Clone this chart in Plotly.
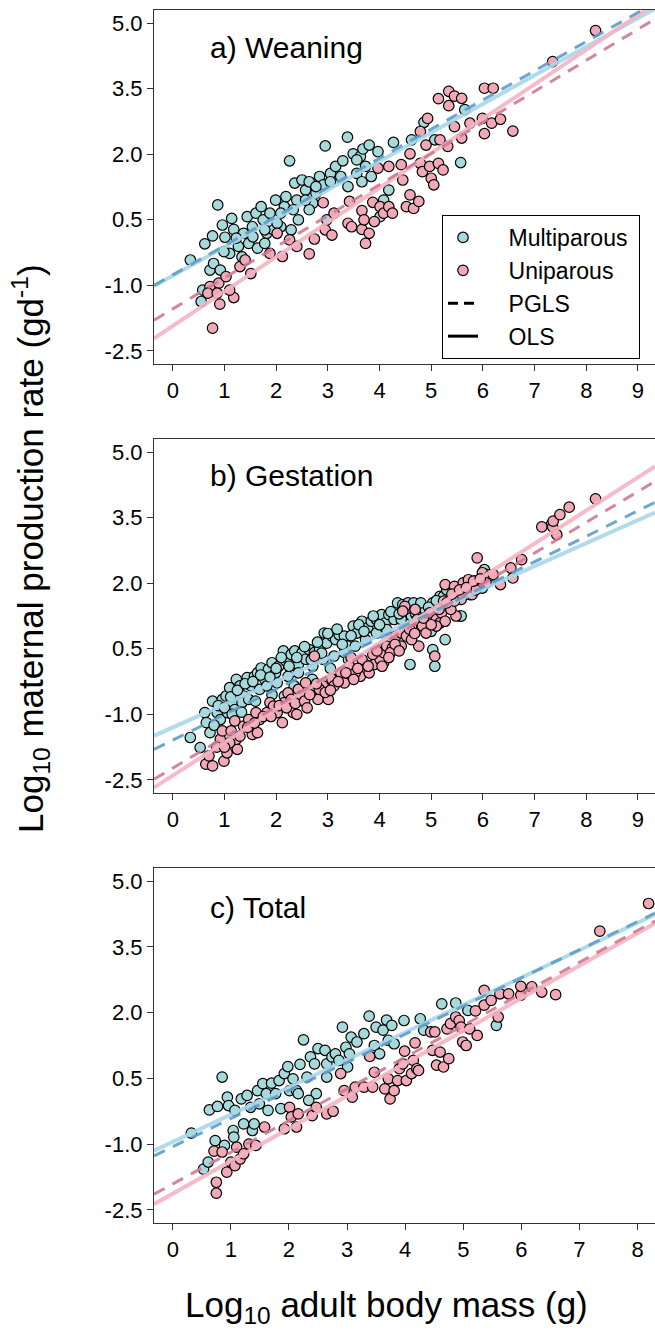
import plotly.graph_objects as go
from plotly.subplots import make_subplots

# ---------------- data ----------------
panel_labels = ["a) Weaning", "b) Gestation", "c) Total"]
y_ticks = [-2.5, -1.0, 0.5, 2.0, 3.5, 5.0]

# (x, y) pairs: log10 adult body mass, log10 maternal production rate
wean_multi = [(0.34,-0.42),(0.62,-0.05),(0.77,0.13),(0.87,0.84),(0.96,0.38),(1.01,0.10),(1.18,0.28),
 (1.10,-0.27),(1.27,-0.11),(1.37,0.19),(1.44,0.57),(1.54,0.34),(1.61,0.65),(1.71,0.80),(1.75,0.50),
 (1.82,0.19),(1.88,0.65),(1.99,0.95),(2.09,0.34),(2.16,0.80),(2.19,1.03),(2.26,1.85),(2.36,1.34),
 (2.40,0.95),(2.50,1.41),(2.57,1.18),(2.64,1.37),(2.71,0.88),(2.77,1.11),(2.84,1.49),(2.91,1.30),
 (2.95,2.19),(3.05,1.56),(3.15,1.72),(3.29,1.85),(3.38,2.39),(3.49,2.01),(3.56,1.56),(3.63,1.95),
 (3.66,1.37),(3.68,2.12),(3.80,2.21),(3.84,1.49),(3.97,2.06),(4.08,0.95),(4.18,1.18),(4.27,2.27),
 (4.62,2.33),(4.86,2.73),(5.07,2.33),(5.57,1.81),(5.65,3.02),(0.72,-0.65),(0.79,-0.50),(0.55,-1.37),
 (0.58,-1.11),(0.92,-0.65),(1.14,0.53),(1.34,-0.35),(1.47,-0.04),(1.64,-0.15),(1.78,-0.04),(1.95,0.27),
 (2.02,0.42),(2.29,0.27),(2.43,0.50),(2.64,0.73),(2.98,0.50),(3.25,1.49),(3.39,1.26),(3.56,1.87),
 (3.73,1.72),(4.01,0.57),(0.99,-0.23),(1.23,0.08),(1.55,0.11),(1.78,0.27),(2.09,0.65),(2.33,0.73),
 (2.57,0.95),(2.77,1.26),(3.05,1.37)]
wean_uni = [(0.77,-1.98),(0.72,-1.03),(0.68,-1.18),(0.89,-0.95),(0.91,-1.43),(1.03,-0.80),(1.18,-1.28),
 (1.10,-1.11),(0.86,-1.18),(1.30,-0.57),(1.40,-0.42),(1.51,-0.73),(1.88,-0.27),(2.02,0.19),(2.12,-0.34),
 (2.26,0.04),(2.40,-0.11),(2.64,-0.28),(2.74,0.06),(2.91,0.89),(2.95,0.27),(3.08,0.15),(3.12,0.65),
 (3.39,0.42),(3.46,0.34),(3.42,0.92),(3.66,0.71),(3.66,0.28),(3.73,-0.04),(3.80,0.19),(3.87,0.90),
 (3.70,0.50),(3.90,0.46),(4.01,0.80),(4.08,0.65),(4.18,0.80),(4.25,0.65),(3.97,1.68),(4.18,1.72),
 (4.42,1.76),(4.45,1.41),(4.52,0.80),(4.59,1.07),(4.66,0.76),(4.76,0.92),(4.59,2.01),(4.79,1.79),
 (4.83,1.60),(4.90,2.21),(4.97,1.72),(5.00,1.45),(5.05,1.30),(5.14,1.79),(5.23,1.64),(5.32,2.18),
 (5.14,3.27),(5.34,3.44),(5.34,3.11),(5.45,3.33),(5.59,3.28),(5.45,2.63),(5.59,2.37),(5.75,2.71),
 (5.99,2.82),(6.03,2.47),(6.03,3.51),(6.20,3.51),(6.17,2.71),(6.34,2.80),(6.58,2.53),(7.35,4.12),
 (8.18,4.83),(4.79,2.52),(4.93,2.82),(5.17,2.33)]

gest_multi = [(0.34,-1.53),(0.53,-1.76),(0.62,-0.96),(0.65,-1.19),(0.72,-1.42),(0.77,-0.70),(0.86,-0.96),
 (0.96,-0.66),(1.03,-0.58),(1.10,-0.39),(1.16,-0.73),(1.23,-0.20),(1.30,-0.35),(1.37,-0.58),(1.44,-0.16),
 (1.51,-0.35),(1.58,-0.13),(1.64,-0.05),(1.71,0.06),(1.78,-0.20),(1.85,0.03),(1.92,0.18),(1.99,-0.05),
 (2.05,0.10),(2.14,0.45),(2.19,0.22),(2.29,0.37),(2.36,0.45),(2.43,0.14),(2.50,0.41),(2.57,0.26),
 (2.64,0.48),(2.74,0.41),(2.84,0.48),(2.93,0.86),(2.98,0.63),(3.08,0.79),(3.15,0.71),(3.22,0.82),
 (3.32,0.79),(3.39,0.56),(3.49,1.02),(3.56,0.86),(3.66,1.13),(3.77,0.98),(3.84,1.13),(3.94,1.17),
 (4.04,1.28),(4.11,1.09),(4.18,1.28),(4.28,1.17),(4.35,1.55),(4.45,1.51),(4.55,1.55),(4.66,1.55),
 (4.59,0.14),(5.00,0.90),(5.03,0.48),(5.07,0.10),(5.27,0.71),(5.17,1.70),(5.55,1.25),(5.58,1.25),
 (5.99,1.89),(6.03,2.31),(6.13,2.08),(5.75,1.74),(7.33,3.35),(2.53,-0.70),(3.12,-0.20),(3.53,-0.01),
 (4.08,0.18),(2.16,-0.58),(0.92,-1.12),(1.06,-0.96),(1.20,-0.89),(1.34,-0.73),(1.47,-0.66),(1.68,-0.43),
 (1.82,-0.35),(2.02,-0.28),(2.23,-0.13),(2.43,-0.05),(2.71,0.10),(2.91,0.26),(3.12,0.33),(3.32,0.41),
 (3.53,0.56),(3.73,0.71),(3.94,0.86),(4.14,0.94),(4.42,1.17),(4.62,1.25),(4.83,1.40),(5.03,1.55),
 (5.24,1.70),(5.45,1.78),(5.72,1.89),(5.92,2.01),
 (0.80,-1.25),(0.88,-0.80),(1.00,-0.85),(1.12,-0.60),(1.25,-0.45),(1.40,-0.30),(1.55,-0.25),
 (1.70,-0.10),(1.88,-0.15),(2.00,0.05),(2.10,0.30),(2.25,0.10),(2.40,0.30),(2.55,0.55),(2.68,0.25),
 (2.80,0.65),(2.88,0.40),(3.00,0.85),(3.18,0.95),(3.28,0.60),(3.45,0.80),(3.60,1.05),(3.70,0.90),
 (3.88,1.25),(4.00,1.05),(4.22,1.35),(4.38,1.30),(4.50,1.40),(4.70,1.30),(4.80,1.55),(4.95,1.45),
 (5.10,1.60),(5.30,1.85),(5.50,1.70),(5.85,2.05),(6.08,2.20),(1.15,-1.00),(1.33,-0.95),(1.60,-0.70),
 (1.92,-0.55),(2.35,-0.35),(2.70,-0.20),(3.05,0.05),(3.40,0.25)]
gest_uni = [(0.64,-2.14),(0.77,-2.18),(0.99,-2.07),(1.05,-1.88),(1.25,-1.80),(0.92,-1.57),(0.96,-1.38),
 (1.13,-1.38),(1.23,-1.57),(1.37,-1.27),(1.54,-1.46),(1.64,-1.42),(1.47,-1.12),(1.68,-1.12),(1.82,-0.96),
 (1.88,-0.73),(2.02,-0.96),(2.12,-1.19),(2.16,-0.73),(2.33,-0.96),(2.40,-1.00),(2.23,-0.51),(2.43,-0.43),
 (2.57,-0.28),(2.71,-0.47),(2.81,-0.66),(3.01,-0.66),(2.91,-0.35),(2.74,0.33),(3.08,-0.20),(3.25,-0.05),
 (3.39,-0.16),(3.42,0.10),(3.63,-0.13),(3.73,0.14),(3.80,-0.05),(3.90,0.14),(4.01,0.26),(4.08,0.41),
 (4.14,0.56),(4.25,0.52),(4.32,0.79),(4.42,0.86),(4.52,0.79),(4.62,1.02),(4.76,0.56),(4.73,1.17),
 (4.83,1.02),(4.97,1.32),(5.07,0.33),(5.10,1.17),(5.17,1.09),(5.20,1.32),(5.24,1.59),(5.27,1.97),
 (5.45,1.93),(5.45,1.63),(5.48,1.25),(5.62,2.01),(5.72,2.08),(5.79,1.74),(5.89,2.58),(5.99,2.24),
 (6.13,2.16),(6.34,1.97),(6.54,2.35),(6.58,2.12),(6.75,2.54),(7.14,3.29),(7.35,3.29),(7.36,3.42),
 (7.43,3.11),(7.49,3.57),(7.67,3.74),(8.18,3.93),(4.49,1.47),(4.45,1.36),(4.69,1.40),(5.27,1.13),
 (1.61,-0.96),(1.95,-0.81),(2.29,-0.66),(2.50,-0.58),(2.84,-0.43),(3.12,-0.35),(3.32,-0.28),(3.53,-0.05),
 (3.66,0.26),(3.87,0.37),(4.21,0.41),(4.42,0.56),(4.62,0.71),(4.90,0.86),(5.10,1.02),(5.38,1.40),
 (5.58,1.63),(5.86,1.85),(6.06,2.01),(5.45,1.59),
 (0.70,-1.95),(0.85,-1.75),(1.10,-1.65),(1.30,-1.50),(1.45,-1.30),(1.58,-1.20),(1.75,-1.05),
 (1.90,-1.05),(2.06,-0.80),(2.20,-0.85),(2.37,-0.75),(2.55,-0.70),(2.65,-0.55),(2.78,-0.30),(2.95,-0.50),
 (3.05,-0.45),(3.20,-0.25),(3.35,-0.05),(3.50,-0.20),(3.58,0.05),(3.78,0.10),(3.95,0.45),(4.05,0.10),
 (4.18,0.30),(4.30,0.60),(4.38,0.45),(4.58,0.95),(4.68,0.85),(4.85,1.20),(5.00,1.05),(5.15,1.40),
 (5.30,1.55),(5.40,1.75),(5.55,1.85),(5.68,1.90),(5.82,2.05),(5.95,2.10),(6.20,2.20),(1.00,-1.75),
 (1.20,-1.15),(2.60,-0.85),(3.45,0.30)]

total_multi = [(0.32,-0.75),(0.53,-1.57),(0.61,-1.41),(0.63,-0.22),(0.73,-0.92),(0.77,-0.14),(0.85,0.53),
 (0.89,-1.03),(0.94,0.07),(0.96,-0.12),(1.04,-0.69),(1.05,-0.84),(1.07,-0.23),(1.18,0.03),(1.22,-0.54),
 (1.28,0.11),(1.34,-0.16),(1.37,-0.69),(1.40,-0.54),(1.46,0.22),(1.49,-0.08),(1.55,0.38),(1.61,0.15),
 (1.64,-0.23),(1.70,0.39),(1.77,0.15),(1.83,0.45),(1.86,-0.19),(1.92,0.61),(1.98,0.77),(2.01,0.22),
 (2.07,0.49),(2.13,0.22),(2.19,0.82),(2.25,1.38),(2.31,0.53),(2.37,0.99),(2.44,0.83),(2.47,0.15),
 (2.50,1.18),(2.62,1.14),(2.65,0.83),(2.74,0.99),(2.80,1.06),(2.86,0.91),(2.92,1.67),(2.98,1.21),
 (3.04,1.06),(3.07,1.44),(3.17,1.33),(3.29,1.52),(3.38,1.92),(3.47,1.25),(3.50,1.67),(3.56,1.06),
 (3.62,1.60),(3.68,1.83),(3.71,1.37),(3.77,1.71),(3.81,1.29),(3.98,1.82),(4.26,1.86),(4.32,1.60),
 (4.63,2.20),(4.87,2.22),(5.08,2.05),(5.57,1.71),(2.16,0.15),(2.34,0.00),(2.65,0.53),(3.01,0.76)]
total_uni = [(0.75,-2.12),(0.75,-1.87),(0.71,-1.16),(0.85,-1.18),(0.93,-1.64),(1.00,-1.41),(1.07,-1.49),
 (1.10,-1.07),(1.16,-1.34),(1.22,-1.22),(1.31,-1.00),(1.43,-1.03),(1.58,-0.61),(1.92,-0.65),(2.01,-0.16),
 (2.04,-0.38),(2.13,-0.61),(2.16,-0.31),(2.40,-0.35),(2.47,-0.16),(2.65,-0.31),(2.76,-0.25),(2.89,0.61),
 (2.95,0.22),(3.09,0.07),(3.14,0.30),(3.29,0.30),(3.39,1.00),(3.44,0.30),(3.47,0.64),(3.65,0.26),
 (3.71,0.49),(3.74,0.03),(3.81,0.22),(3.87,0.45),(3.90,0.72),(3.96,0.83),(3.99,1.12),(4.02,0.45),
 (4.11,0.61),(4.14,0.91),(4.20,0.72),(4.23,0.68),(4.17,1.31),(4.44,1.56),(4.47,1.14),(4.51,1.56),
 (4.54,0.80),(4.60,1.10),(4.66,0.76),(4.75,0.95),(4.72,1.63),(4.78,1.75),(4.87,1.90),(4.93,1.82),
 (4.96,1.67),(4.99,1.33),(5.05,1.25),(5.11,1.63),(5.24,1.48),(5.21,2.04),(5.36,2.17),(5.36,2.51),
 (5.48,2.28),(5.60,1.90),(5.63,2.43),(5.78,2.43),(5.99,2.40),(5.99,2.60),(6.18,2.59),(6.35,2.47),
 (6.59,2.41),(7.35,3.86),(8.19,4.49)]

# regression fits: (intercept, slope)
wean_fit = {"multi_ols": (-0.78, 0.655), "multi_pgls": (-0.76, 0.667),
            "uni_ols": (-1.93, 0.79), "uni_pgls": (-1.54, 0.711)}
gest_fit = {"multi_ols": (-1.30, 0.527), "multi_pgls": (-1.59, 0.583),
            "uni_ols": (-2.40, 0.758), "uni_pgls": (-2.23, 0.703)}
total_fit = {"multi_ols": (-0.95, 0.625), "multi_pgls": (-1.06, 0.642),
             "uni_ols": (-2.13, 0.743), "uni_pgls": (-1.91, 0.723)}

x_ranges = [(-0.363, 9.33), (-0.363, 9.33), (-0.323, 8.30)]
y_range = (-2.8, 5.3)

# ---------------- styling ----------------
FONT = "Liberation Sans, Arial, sans-serif"
C_MULTI = "#a6d9da"
C_UNI = "#f2a9b7"
C_MULTI_OLS = "#a9d8ea"
C_UNI_OLS = "#f6b4c4"
C_MULTI_PGLS = "#5f9ec8"
C_UNI_PGLS = "#cf7a93"
NB = "\u00a0"

fig = make_subplots(rows=3, cols=1)

panels = [(wean_multi, wean_uni, wean_fit), (gest_multi, gest_uni, gest_fit),
          (total_multi, total_uni, total_fit)]

for i, (multi, uni, fit) in enumerate(panels):
    r = i + 1
    show = (i == 0)
    fig.add_trace(go.Scatter(x=[p[0] for p in multi], y=[p[1] for p in multi], mode="markers",
                             name=NB * 4 + "Multiparous" + NB, showlegend=show, legendrank=1,
                             marker=dict(size=10.5, color=C_MULTI, line=dict(color="black", width=1.2))),
                  row=r, col=1)
    fig.add_trace(go.Scatter(x=[p[0] for p in uni], y=[p[1] for p in uni], mode="markers",
                             name=NB * 4 + "Uniparous", showlegend=show, legendrank=2,
                             marker=dict(size=10.5, color=C_UNI, line=dict(color="black", width=1.2))),
                  row=r, col=1)
    x0, x1 = x_ranges[i]
    for key, col, dash, w in [("multi_ols", C_MULTI_OLS, "solid", 4),
                              ("uni_ols", C_UNI_OLS, "solid", 4),
                              ("multi_pgls", C_MULTI_PGLS, "12px,9px", 3),
                              ("uni_pgls", C_UNI_PGLS, "12px,9px", 3)]:
        a, b = fit[key]
        fig.add_trace(go.Scatter(x=[x0, x1], y=[a + b * x0, a + b * x1], mode="lines",
                                 showlegend=False, hoverinfo="skip", opacity=0.9,
                                 line=dict(color=col, width=w, dash=dash)),
                      row=r, col=1)

# legend-only entries for line styles
fig.add_trace(go.Scatter(x=[None], y=[None], mode="lines", name=NB * 4 + "PGLS", legendrank=3,
                         line=dict(color="black", width=3, dash="10px,6px")), row=1, col=1)
fig.add_trace(go.Scatter(x=[None], y=[None], mode="lines", name=NB * 4 + "OLS", legendrank=4,
                         line=dict(color="black", width=3)), row=1, col=1)

# layout in pixel terms
W, H = 655, 1332
ml, mt, mb = 154, 10, 109
pw = W - ml
ph = H - mt - mb
def dom(top_px, bot_px):
    return [(H - mb - bot_px) / ph, (H - mb - top_px) / ph]

doms = [dom(10, 364), dom(439, 793), dom(868, 1223)]
axis_common = dict(showline=True, linecolor="#333333", linewidth=1.2, ticks="outside",
                   ticklen=6, tickwidth=1.2, tickcolor="#333333", showgrid=False, zeroline=False,
                   tickfont=dict(family=FONT, size=22, color="black"))
for i in range(3):
    xa = "xaxis" if i == 0 else f"xaxis{i+1}"
    ya = "yaxis" if i == 0 else f"yaxis{i+1}"
    fig.layout[xa].update(range=list(x_ranges[i]), dtick=1, tick0=0, mirror=True, **axis_common)
    fig.layout[ya].update(range=list(y_range), domain=doms[i], tickvals=y_ticks,
                          ticktext=[f"{v:.1f}" for v in y_ticks], **axis_common)
    fig.add_annotation(text=panel_labels[i], xref=f"x{'' if i == 0 else i+1} domain",
                       yref=f"y{'' if i == 0 else i+1} domain", x=(208 - ml) / pw,
                       y=[0.893, 0.898, 0.89][i],
                       xanchor="left", yanchor="middle", showarrow=False,
                       font=dict(family=FONT, size=30, color="black"))

fig.add_annotation(text="Log<sub>10</sub> maternal production rate (gd<sup>-1</sup>)",
                   xref="paper", yref="paper", x=(30 - ml) / pw, y=(H - mb - 549) / ph,
                   textangle=-90, showarrow=False, xanchor="center", yanchor="middle",
                   font=dict(family=FONT, size=35, color="black"))
fig.add_annotation(text="Log<sub>10</sub> adult body mass (g)",
                   xref="paper", yref="paper", x=(386 - ml) / pw, y=(H - mb - 1307) / ph,
                   showarrow=False, xanchor="center", yanchor="middle",
                   font=dict(family=FONT, size=35, color="black"))

fig.update_layout(
    width=W, height=H, margin=dict(l=ml, r=0, t=mt, b=mb),
    plot_bgcolor="white", paper_bgcolor="white",
    legend=dict(x=(442 - ml) / pw, y=(H - mb - 215) / ph, xanchor="left", yanchor="top",
                bgcolor="white", bordercolor="black", borderwidth=1,
                font=dict(family=FONT, size=23, color="black"), tracegroupgap=0,
                itemwidth=30),
)

fig.write_html("out.html")
